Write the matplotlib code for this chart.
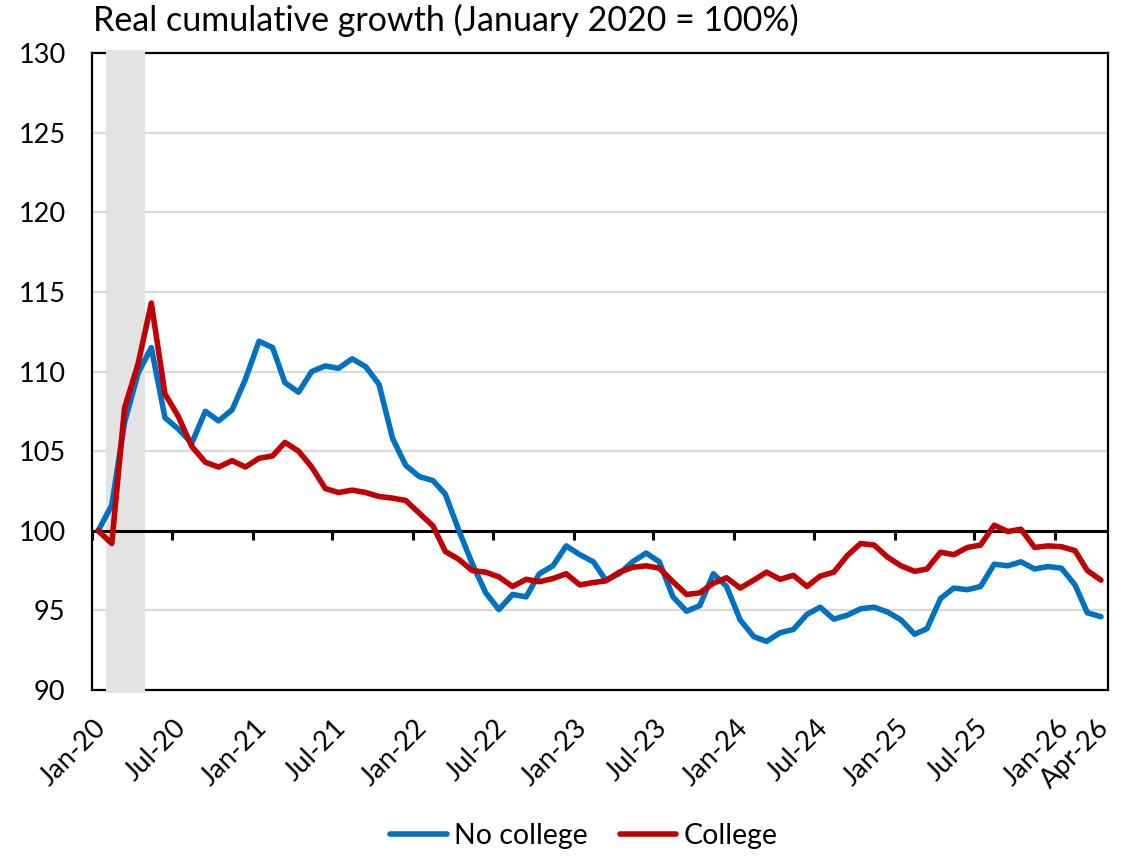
import matplotlib
matplotlib.use("Agg")
import matplotlib.pyplot as plt
import matplotlib.dates as mdates
import pandas as pd

plt.rcParams["font.family"] = ["Lato", "DejaVu Sans"]

# Monthly index values, January 2020 = 100
months = pd.date_range("2020-01-01", "2026-04-01", freq="MS")
no_college = [
    100.0, 101.6, 106.8, 109.9, 111.5, 107.1, 106.4, 105.5, 107.5, 106.9,
    107.6, 109.5, 111.9, 111.5, 109.3, 108.7, 110.0, 110.35, 110.2, 110.8,
    110.3, 109.2, 105.8, 104.1, 103.4, 103.15, 102.3, 100.0, 97.95, 96.1,
    95.05, 96.0, 95.85, 97.3, 97.8, 99.05, 98.5, 98.05, 96.9, 97.3,
    98.05, 98.6, 98.05, 95.85, 94.95, 95.3, 97.3, 96.5, 94.4, 93.35,
    93.05, 93.6, 93.8, 94.75, 95.2, 94.45, 94.7, 95.1, 95.2, 94.9,
    94.4, 93.5, 93.85, 95.75, 96.4, 96.3, 96.5, 97.9, 97.8, 98.05,
    97.6, 97.75, 97.65, 96.6, 94.85, 94.6,
]
college = [
    100.0, 99.2, 107.7, 110.5, 114.3, 108.6, 107.2, 105.3, 104.3, 104.0,
    104.4, 104.0, 104.55, 104.7, 105.55, 105.0, 104.0, 102.65, 102.4, 102.55,
    102.4, 102.15, 102.05, 101.9, 101.1, 100.3, 98.7, 98.2, 97.5, 97.4,
    97.1, 96.5, 96.95, 96.8, 97.0, 97.3, 96.6, 96.75, 96.85, 97.4,
    97.7, 97.8, 97.65, 96.8, 96.0, 96.1, 96.7, 97.05, 96.4, 96.9,
    97.4, 96.95, 97.2, 96.5, 97.15, 97.4, 98.45, 99.2, 99.1, 98.35,
    97.8, 97.45, 97.6, 98.65, 98.5, 98.95, 99.1, 100.35, 99.95, 100.1,
    98.95, 99.05, 99.0, 98.75, 97.5, 96.9,
]
series_names = ["No college", "College"]
series_colors = ["#0070C0", "#C00000"]

# Recession period (shaded)
recession = ("2020-02-01", "2020-05-01")

# Category tick labels
tick_dates = pd.to_datetime([
    "2020-01-01", "2020-07-01", "2021-01-01", "2021-07-01", "2022-01-01",
    "2022-07-01", "2023-01-01", "2023-07-01", "2024-01-01", "2024-07-01",
    "2025-01-01", "2025-07-01", "2026-01-01",
])
tick_labels = [d.strftime("%b-%y") for d in tick_dates]
end_label_date = pd.Timestamp("2026-04-01")
end_label = "Apr-26"

y_ticks = list(range(90, 131, 5))

# Points are plotted mid-month
x = months + pd.Timedelta(days=14)

fig = plt.figure(figsize=(11.32, 8.56), dpi=100)
ax = fig.add_axes([92 / 1132, 1 - 690 / 856, (1108 - 92) / 1132, (690 - 53) / 856])

ax.set_xlim(pd.Timestamp("2020-01-01"), pd.Timestamp("2026-05-01"))
ax.set_ylim(90, 130)

ax.set_yticks(y_ticks)
ax.yaxis.grid(True, color="#D9D9D9", lw=1.6, zorder=0)
ax.set_axisbelow(True)
ax.tick_params(axis="y", length=0, pad=19, labelsize=19.5)
ax.tick_params(axis="x", length=0, labelbottom=False)

for s in ax.spines.values():
    s.set_color("black")
    s.set_linewidth(1.6)

ax.axvspan(pd.Timestamp(recession[0]), pd.Timestamp(recession[1]),
           ymin=-0.004, ymax=1.004, color="#E3E3E3", lw=0, zorder=2.6,
           clip_on=False)

# Zero-growth line with month ticks
ax.axhline(100, color="black", lw=2.2, zorder=3)
ax.vlines(tick_dates, 99.4, 100, color="black", lw=2.2, zorder=3)

lines = []
for vals, name, col in zip([no_college, college], series_names, series_colors):
    (ln,) = ax.plot(x, vals, color=col, lw=4.0, label=name, zorder=4,
                    solid_joinstyle="round", solid_capstyle="round")
    lines.append(ln)

# Rotated date labels below the plot area
for d, lab in list(zip(tick_dates, tick_labels)) + [(end_label_date, end_label)]:
    ax.annotate(lab, xy=(mdates.date2num(d), 0), xycoords=("data", "axes fraction"),
                xytext=(10, -34), textcoords="offset pixels",
                rotation=45, rotation_mode="anchor", ha="right", va="center",
                fontsize=19.5)

fig.text(93 / 1132, 1 - 4 / 856, "Real cumulative growth (January 2020 = 100%)",
         ha="left", va="top", fontsize=24.5)

fig.legend(handles=lines, labels=series_names, loc="center",
           bbox_to_anchor=(584 / 1132, 1 - 836 / 856), ncol=2, frameon=False,
           fontsize=20.5, handlelength=2.0, handletextpad=0.25, columnspacing=1.1)

fig.savefig("out.png", dpi=100)
